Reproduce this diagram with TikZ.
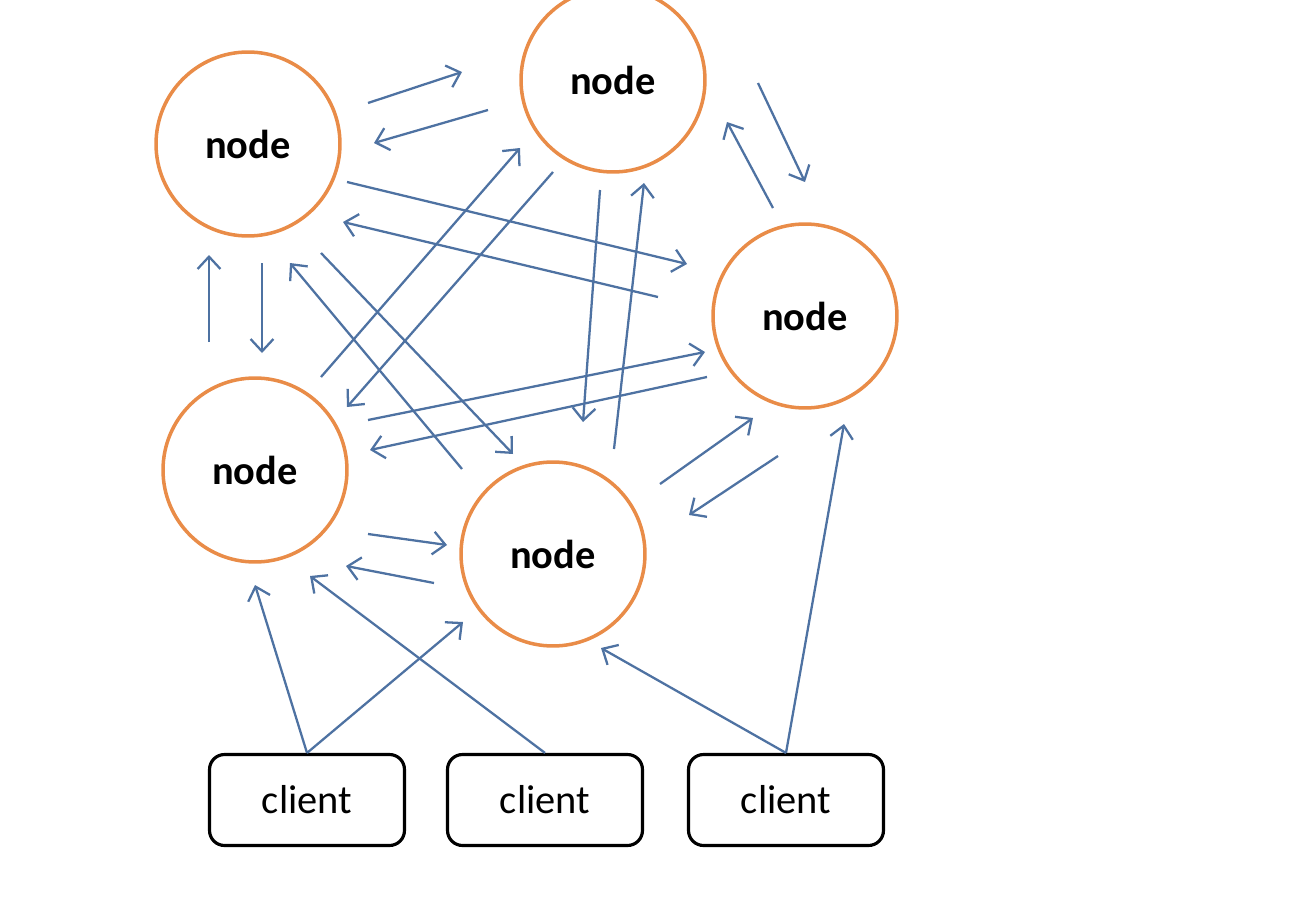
\documentclass[tikz,border=0pt]{standalone}
\usepackage{fontspec}
\setmainfont{Carlito}
\usetikzlibrary{arrows.meta}
\definecolor{ringorange}{RGB}{233,140,72}
\definecolor{linkblue}{RGB}{78,114,162}
\begin{document}
\begin{tikzpicture}[x=0.02cm,y=-0.02cm,
  server/.style={circle,draw=ringorange,line width=2pt,inner sep=0pt,
    minimum size=3.68cm,font=\fontsize{23}{28}\selectfont\bfseries},
  client/.style={draw=black,line width=1.8pt,rounded corners=0.3cm,
    minimum width=3.9cm,minimum height=1.82cm,inner sep=0pt,
    font=\fontsize{23}{28}\selectfont},
  link/.style={draw=linkblue,line width=1.3pt,
    -{Straight Barb[length=7pt,width=13pt,line width=1.3pt]}}]
\useasboundingbox (0,0) rectangle (1292,906);

% ring of servers
\node[server] (n1) at (248,144) {node};
\node[server] (n2) at (613,80)  {node};
\node[server] (n3) at (805,316) {node};
\node[server] (n4) at (255,470) {node};
\node[server] (n5) at (553,554) {node};

% clients
\node[client] (c1) at (307,800) {client};
\node[client] (c2) at (545,800) {client};
\node[client] (c3) at (786,800) {client};

% end points of the message arrows
\coordinate (a1s) at (368,103); \coordinate (a1e) at (462,72);
\coordinate (a2s) at (488,110); \coordinate (a2e) at (374,143);
\coordinate (a3s) at (758,83);  \coordinate (a3e) at (805,182);
\coordinate (a4s) at (773,208); \coordinate (a4e) at (727,122);
\coordinate (a5s) at (347,182); \coordinate (a5e) at (687,264);
\coordinate (a6s) at (658,297); \coordinate (a6e) at (343,222);
\coordinate (a7s) at (209,342); \coordinate (a7e) at (209,255);
\coordinate (a8s) at (262,263); \coordinate (a8e) at (262,353);
\coordinate (a9s) at (321,377); \coordinate (a9e) at (520,148);
\coordinate (a10s) at (553,172); \coordinate (a10e) at (347,407);
\coordinate (a11s) at (462,469); \coordinate (a11e) at (290,263);
\coordinate (a12s) at (321,253); \coordinate (a12e) at (513,454);
\coordinate (a13s) at (600,190); \coordinate (a13e) at (583,422);
\coordinate (a14s) at (614,449); \coordinate (a14e) at (644,183);
\coordinate (a15s) at (368,420); \coordinate (a15e) at (705,352);
\coordinate (a16s) at (707,377); \coordinate (a16e) at (370,450);
\coordinate (a17s) at (660,484); \coordinate (a17e) at (753,418);
\coordinate (a18s) at (778,456); \coordinate (a18e) at (689,515);
\coordinate (a19s) at (368,534); \coordinate (a19e) at (447,545);
\coordinate (a20s) at (434,583); \coordinate (a20e) at (346,566);
\coordinate (b1e) at (255,585);
\coordinate (b2e) at (463,622);
\coordinate (b3e) at (310,576);
\coordinate (b4e) at (601,648);
\coordinate (b5e) at (844,424);

% server-to-server traffic
\foreach \i in {1,...,20} \draw[link] (a\i s) -- (a\i e);

% client requests
\draw[link] (c1.north) -- (b1e);
\draw[link] (c1.north) -- (b2e);
\draw[link] (c2.north) -- (b3e);
\draw[link] (c3.north) -- (b4e);
\draw[link] (c3.north) -- (b5e);
\end{tikzpicture}
\end{document}
